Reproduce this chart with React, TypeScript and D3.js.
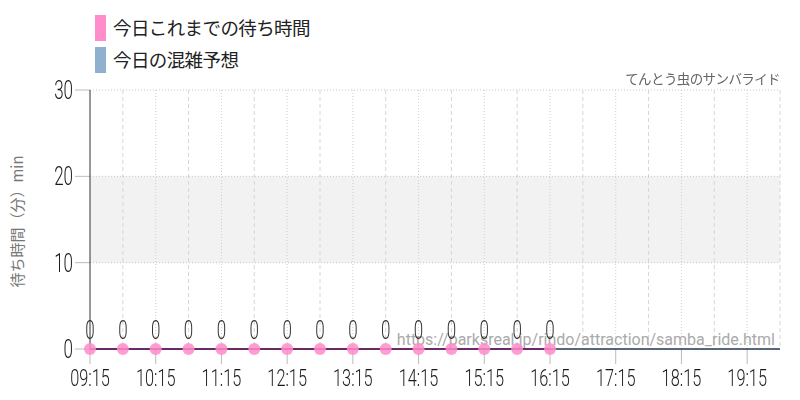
import React from 'react';
import * as d3 from 'd3';

// wait-time samples (every 30 min from 09:15)
const waitTimes = ['09:15', '09:45', '10:15', '10:45', '11:15', '11:45', '12:15', '12:45', '13:15', '13:45', '14:15', '14:45', '15:15', '15:45', '16:15'];
const waitValues = [0, 0, 0, 0, 0, 0, 0, 0, 0, 0, 0, 0, 0, 0, 0];
// forecast line through the rest of the day
const forecastTimes = ['16:15', '19:45'];
const forecastValues = [0, 0];
const xTickLabels = ['09:15', '10:15', '11:15', '12:15', '13:15', '14:15', '15:15', '16:15', '17:15', '18:15', '19:15'];
const minorTicks = ['09:45', '10:45', '11:45', '12:45', '13:45', '14:45', '15:45', '16:45', '17:45', '18:45', '19:45'];
const yTickValues = [0, 10, 20, 30];
const crowdBand = [10, 20];
const legendItems = [
  { label: '今日これまでの待ち時間', color: '#ff8ccb' },
  { label: '今日の混雑予想', color: '#8fb1cf' },
];

const toMin = (t: string) => {
  const [h, m] = t.split(':').map(Number);
  return h * 60 + m;
};

const App: React.FC = () => {
  const width = 800;
  const height = 400;
  const margin = { top: 90, right: 20, bottom: 51, left: 90 };

  const x = d3
    .scaleLinear()
    .domain([toMin('09:15'), toMin('19:45')])
    .range([margin.left, width - margin.right]);
  const y = d3
    .scaleLinear()
    .domain([0, 30])
    .range([height - margin.bottom, margin.top]);

  const line = d3
    .line<[string, number]>()
    .x((d) => x(toMin(d[0])))
    .y((d) => y(d[1]));

  const waitData = waitTimes.map((t, i) => [t, waitValues[i]] as [string, number]);
  const forecastData = forecastTimes.map((t, i) => [t, forecastValues[i]] as [string, number]);

  const numFont = { fontFamily: 'Roboto', fontWeight: 300, fontSize: 25, fill: '#1a1a1a' };
  const cond = 'scale(0.68,1)';

  return (
    <svg width={width} height={height} style={{ position: 'absolute', left: 0, top: 0 }}>
      <defs>
        {/* render condensed digits offscreen so they get grayscale antialiasing */}
        <filter id="flat" x={0} y={0} width={width} height={height} filterUnits="userSpaceOnUse">
          <feOffset dx={0} dy={0} />
        </filter>
      </defs>
      <rect width={width} height={height} fill="#fff" />

      {/* crowd band */}
      <rect
        x={margin.left}
        y={y(crowdBand[1])}
        width={width - margin.right - margin.left}
        height={y(crowdBand[0]) - y(crowdBand[1])}
        fill="#f2f2f2"
      />

      {/* vertical grid */}
      {minorTicks.map((t) => (
        <line key={t} x1={x(toMin(t))} x2={x(toMin(t))} y1={y(30)} y2={y(0)} stroke="#d6d6d6" strokeDasharray="4,3" />
      ))}
      {xTickLabels.slice(1).map((t) => (
        <line key={t} x1={x(toMin(t))} x2={x(toMin(t))} y1={y(30)} y2={y(0)} stroke="#cfcfcf" strokeDasharray="1,2" />
      ))}

      {/* horizontal grid */}
      {yTickValues.slice(1).map((v) => (
        <g key={v}>
          <line x1={margin.left} x2={width - margin.right} y1={y(v)} y2={y(v)} stroke="#c8c8c8" strokeDasharray="1,2" />
          <line x1={margin.left - 15} x2={margin.left} y1={y(v)} y2={y(v)} stroke="#bbb" />
        </g>
      ))}
      <line x1={margin.left - 15} x2={margin.left} y1={y(0)} y2={y(0)} stroke="#bbb" />

      {/* y axis */}
      <line x1={margin.left} x2={margin.left} y1={y(30)} y2={y(0)} stroke="#333" />

      {/* x ticks */}
      {xTickLabels.map((t) => (
        <line key={t} x1={x(toMin(t))} x2={x(toMin(t))} y1={y(0)} y2={y(0) + 15} stroke="#bbb" />
      ))}

      {/* watermark */}
      <text
        x={width - 25}
        y={y(0) - 4}
        textAnchor="end"
        fontFamily="Roboto"
        fontSize={16}
        fill="#aaa"
      >
        https://parksreal.jp/rindo/attraction/samba_ride.html
      </text>

      {/* lines */}
      <path d={line(forecastData) ?? ''} fill="none" stroke="#1f3550" strokeWidth={1.5} />
      <path d={line(waitData) ?? ''} fill="none" stroke="#6a2a68" strokeWidth={2} />

      {/* points */}
      {waitData.map((d) => (
        <circle key={d[0]} cx={x(toMin(d[0]))} cy={y(d[1])} r={6} fill="#ff8ccb" opacity={0.85} />
      ))}

      <g filter="url(#flat)">
        {yTickValues.map((v) => (
          <text
            key={v}
            transform={`translate(${margin.left - 17},${y(v) + 9}) ${cond}`}
            textAnchor="end"
            {...numFont}
          >
            {v}
          </text>
        ))}
        {xTickLabels.map((t) => (
          <text
            key={t}
            transform={`translate(${x(toMin(t))},${y(0) + 37}) ${cond}`}
            textAnchor="middle"
            {...numFont}
            fontSize={24}
          >
            {t}
          </text>
        ))}
        {waitData.map((d) => (
          <text
            key={d[0]}
            transform={`translate(${x(toMin(d[0]))},${y(d[1]) - 10}) ${cond}`}
            textAnchor="middle"
            {...numFont}
            fill="#333"
          >
            {d[1]}
          </text>
        ))}
      </g>

      {/* title */}
      <text
        x={width - 20}
        y={84}
        textAnchor="end"
        fontFamily="'Noto Sans CJK JP'"
        fontSize={13.5}
        letterSpacing={-0.6}
        fill="#666"
      >
        てんとう虫のサンバライド
      </text>

      {/* y axis label */}
      <text
        transform={`translate(23,${(y(0) + y(30)) / 2 + 2}) rotate(-90)`}
        textAnchor="middle"
        fontFamily="'Noto Sans CJK JP'"
        fontSize={15}
        fill="#777"
      >
        待ち時間（分）min
      </text>

      {/* legend */}
      {legendItems.map((item, i) => (
        <g key={item.label} transform={`translate(95,${15 + i * 32})`}>
          <rect width={11} height={26} fill={item.color} />
          <text x={18} y={20} fontFamily="'Noto Sans CJK JP'" fontSize={18.5} letterSpacing={-0.6} fill="#222">
            {item.label}
          </text>
        </g>
      ))}
    </svg>
  );
};

export default App;
